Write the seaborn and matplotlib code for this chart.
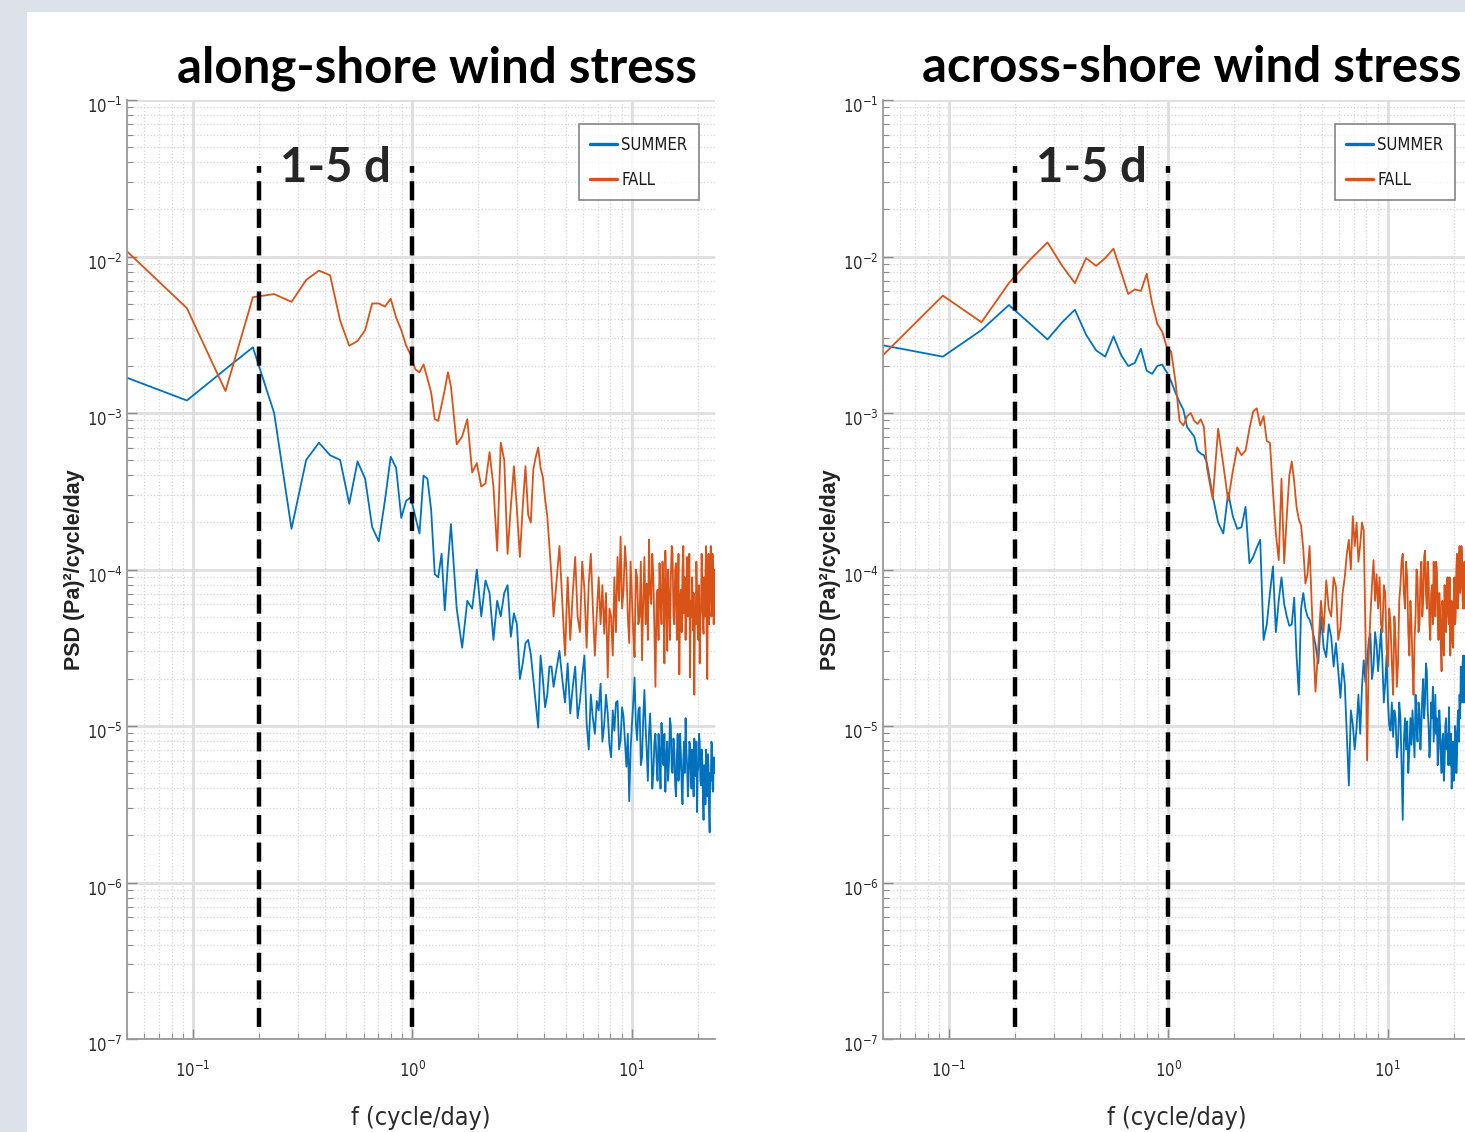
import matplotlib
matplotlib.use("Agg")
import matplotlib.pyplot as plt
import matplotlib.font_manager as fm
from matplotlib.patches import Rectangle
from matplotlib.lines import Line2D
from matplotlib.ticker import FixedLocator, LogLocator, NullFormatter, FuncFormatter
from matplotlib.transforms import ScaledTranslation
import numpy as np
import pandas as pd
import seaborn as sns

# ---------------- data ----------------
DF_CPD = 48.0 / 1024.0          # spectral resolution (cycle/day)
K_BINS = list(range(1, 33)) + list(range(34, 97, 2)) + list(range(100, 510, 3))

SEASONS = ["SUMMER", "FALL"]
SEASON_COLORS = {"SUMMER": "#0072BD", "FALL": "#D95319"}

# log10 of PSD (bins 1-32, 34-96 step 2, 100-508 step 3)
ALONG_SUMMER_LOG = [
    -2.76, -2.92, -2.72, -2.58, -3.00, -3.74, -3.30, -3.19, -3.27, -3.30,
    -3.58, -3.31, -3.42, -3.73, -3.82, -3.56, -3.28, -3.35, -3.67, -3.56,
    -3.54, -3.66, -3.77, -3.40, -3.42, -3.62, -4.03, -4.05, -3.90, -4.26,
    -3.96, -3.71,
    -4.25, -4.50, -4.20, -4.25, -4.00, -4.30, -4.07, -4.15,
    -4.45, -4.20, -4.30, -4.15, -4.10, -4.43, -4.28, -4.35,
    -4.70, -4.60, -4.47, -4.45, -4.54, -4.70, -4.85, -5.01,
    -4.55, -4.70, -4.88, -4.80, -4.62, -4.62, -4.75, -4.67,
    -4.52, -4.70, -4.85, -4.60, -4.92, -4.75, -4.62, -4.95, -4.84, -4.68,
    -4.55, -4.98, -5.15, -4.80, -4.95, -5.05, -4.84, -4.90, -4.73, -5.10,
    -4.99, -4.80, -4.92, -5.12, -5.20, -4.90, -5.03, -4.85, -4.84, -5.15,
    -5.09, -4.88, -4.94, -5.10, -5.26, -5.05, -5.48, -5.15, -4.99, -4.85,
    -4.69, -4.98, -5.09, -4.90, -4.88, -5.25, -5.20, -4.95, -4.77, -5.00,
    -5.16, -5.35, -5.05, -4.92, -5.12, -5.40, -5.30, -5.10, -5.05, -5.22,
    -5.35, -5.05, -5.18, -5.40, -4.98, -5.15, -5.25, -5.05, -5.42, -5.20,
    -5.10, -5.35, -5.22, -4.95, -5.00, -5.28, -5.30, -5.08, -5.15, -5.38,
    -5.45, -5.20, -5.05, -5.35, -5.28, -5.05, -5.18, -5.40, -5.50, -5.22,
    -5.10, -5.30, -4.95, -5.15, -5.25, -5.45, -5.35, -5.10, -5.12, -5.30,
    -5.40, -5.15, -5.20, -5.45, -5.08, -5.30, -5.32, -5.10, -5.55, -5.30,
    -5.25, -5.05, -5.10, -5.35, -5.38, -5.15, -5.22, -5.45, -5.60, -5.25,
    -5.30, -5.50, -5.15, -5.35, -5.45, -5.18, -5.25, -5.55, -5.68, -5.30,
    -5.35, -5.10, -5.12, -5.40, -5.42, -5.20, -5.30,
]
ALONG_FALL_LOG = [
    -1.93, -2.33, -2.86, -2.26, -2.24, -2.29, -2.15, -2.09, -2.12, -2.41,
    -2.57, -2.54, -2.47, -2.30, -2.30, -2.32, -2.27, -2.39, -2.47, -2.57,
    -2.63, -2.72, -2.74, -2.69, -2.78, -2.87, -3.04, -3.05, -2.95, -2.85,
    -2.74, -2.83,
    -3.20, -3.15, -3.04, -3.38, -3.32, -3.47, -3.45, -3.25,
    -3.47, -3.88, -3.19, -3.30, -3.90, -3.60, -3.34, -3.62,
    -3.92, -3.60, -3.34, -3.65, -3.70, -3.36, -3.28, -3.22,
    -3.35, -3.41, -3.55, -3.66, -3.85, -4.05, -4.30, -4.15,
    -3.85, -4.20, -4.55, -4.05, -4.45, -4.15, -3.92, -4.30, -4.40, -3.95,
    -4.13, -4.50, -4.09, -3.90, -4.24, -4.55, -4.28, -4.05, -4.35, -4.10,
    -4.41, -4.15, -4.69, -4.25, -4.30, -4.55, -4.05, -4.40, -3.92, -4.20,
    -3.79, -4.25, -4.13, -3.85, -4.00, -4.30, -4.47, -3.95, -4.17, -4.40,
    -4.56, -4.00, -4.05, -4.35, -4.30, -3.95, -4.58, -4.20, -3.92, -4.35,
    -4.09, -4.45, -3.81, -4.15, -4.22, -3.90, -4.05, -4.40, -4.75, -4.20,
    -4.13, -4.45, -3.96, -4.20, -4.35, -3.95, -4.09, -4.60, -3.88, -4.15,
    -4.52, -4.00, -4.20, -4.45, -4.05, -3.85, -3.90, -4.30, -4.35, -4.00,
    -3.96, -4.45, -4.26, -3.90, -4.67, -4.20, -4.13, -4.40, -4.00, -3.85,
    -4.28, -4.05, -4.45, -4.15, -3.92, -4.30, -4.17, -3.90, -4.69, -4.20,
    -4.30, -4.05, -4.39, -4.15, -4.80, -4.25, -4.35, -3.95, -4.13, -4.40,
    -4.45, -4.10, -4.60, -4.30, -4.26, -3.90, -4.09, -4.35, -4.41, -4.05,
    -4.30, -4.05, -3.85, -4.40, -4.70, -4.20, -3.90, -4.35, -4.10, -3.95,
    -3.85, -4.30, -4.25, -3.90, -4.05, -4.35, -4.00,
]
ACROSS_SUMMER_LOG = [
    -2.56, -2.64, -2.47, -2.31, -2.43, -2.53, -2.42, -2.34, -2.50, -2.60,
    -2.64, -2.51, -2.63, -2.70, -2.68, -2.59, -2.73, -2.75, -2.70, -2.69,
    -2.74, -2.80, -2.87, -2.93, -2.98, -3.09, -3.12, -3.15, -3.24, -3.26,
    -3.27, -3.32,
    -3.53, -3.70, -3.77, -3.51, -3.66, -3.74, -3.73, -3.60,
    -3.96, -3.92, -3.86, -3.81, -4.45, -4.35, -4.15, -3.98,
    -4.40, -4.20, -4.05, -4.22, -4.30, -4.36, -4.35, -4.18,
    -4.55, -4.80, -4.25, -4.15, -4.25, -4.30, -4.32, -4.36,
    -4.48, -4.60, -4.30, -4.50, -4.56, -4.35, -4.43, -4.62, -4.47, -4.65,
    -4.82, -4.60, -4.73, -5.05, -5.38, -4.90, -4.99, -5.15, -5.01, -4.80,
    -5.05, -4.75, -4.58, -4.72, -4.60, -4.45, -4.41, -4.70, -4.62, -4.40,
    -4.48, -4.65, -4.52, -4.38, -4.60, -4.85, -4.73, -4.55, -4.84, -5.00,
    -5.03, -4.85, -5.07, -4.90, -4.95, -5.20, -5.12, -4.85, -4.94, -5.25,
    -5.60, -5.10, -4.95, -5.15, -4.97, -5.30, -5.16, -4.95, -5.12, -4.90,
    -5.05, -5.20, -4.80, -5.00, -5.10, -4.85, -4.90, -5.15, -5.00, -4.80,
    -4.70, -4.95, -4.85, -4.60, -4.65, -4.90, -5.00, -5.20, -5.10, -4.85,
    -4.95, -4.75, -5.10, -4.95, -4.80, -5.05, -4.95, -5.25, -5.15, -4.90,
    -5.00, -5.20, -5.30, -5.10, -5.05, -5.35, -5.25, -5.00, -4.95, -5.15,
    -5.05, -5.25, -4.88, -5.10, -5.25, -5.05, -5.40, -5.20, -5.10, -5.35,
    -5.30, -5.00, -5.05, -5.30, -5.20, -4.95, -4.90, -5.10, -4.80, -4.95,
    -4.62, -4.80, -4.85, -4.60, -4.55, -4.85, -4.75, -4.55, -4.58, -4.80,
    -4.72, -4.50, -4.60, -4.85, -4.80, -4.62, -4.60,
]
ACROSS_FALL_LOG = [
    -2.67, -2.25, -2.42, -2.17, -2.02, -1.91, -2.06, -2.17, -2.01, -2.06,
    -2.01, -1.95, -2.10, -2.24, -2.21, -2.22, -2.11, -2.30, -2.43, -2.48,
    -2.58, -2.61, -2.80, -3.05, -3.08, -3.02, -3.00, -3.05, -3.07, -3.04,
    -3.09, -3.35,
    -3.55, -3.10, -3.33, -3.56, -3.37, -3.22, -3.27, -3.24,
    -3.10, -2.99, -2.97, -3.08, -3.02, -3.18, -3.19, -3.50,
    -3.77, -3.94, -3.42, -3.96, -3.66, -3.40, -3.31, -3.44,
    -3.60, -3.68, -3.72, -3.87, -4.09, -4.03, -3.85, -4.20,
    -4.78, -4.50, -4.20, -4.40, -4.07, -4.25, -4.30, -4.05, -4.11, -4.45,
    -4.37, -4.15, -4.05, -3.90, -3.81, -4.00, -3.66, -3.85, -3.70, -3.95,
    -3.84, -3.70, -3.75, -4.40, -5.22, -4.55, -4.30, -4.10, -3.94, -4.20,
    -4.03, -4.25, -4.05, -4.35, -4.40, -4.10, -4.15, -4.50, -4.62, -4.25,
    -4.35, -4.60, -4.80, -4.30, -4.45, -4.75, -4.60, -4.20, -4.10, -3.95,
    -3.90, -4.15, -4.25, -3.95, -4.05, -4.40, -4.55, -4.20, -4.35, -4.60,
    -4.80, -4.45, -4.30, -4.00, -4.05, -4.40, -4.35, -4.05, -3.95, -4.30,
    -4.20, -3.92, -3.88, -4.15, -4.25, -3.95, -4.05, -4.35, -4.45, -4.15,
    -4.10, -4.35, -3.95, -4.20, -4.30, -3.95, -4.00, -4.30, -4.45, -4.15,
    -4.25, -4.50, -4.65, -4.20, -4.30, -4.55, -4.10, -4.35, -4.40, -4.10,
    -4.05, -4.30, -4.35, -4.05, -4.55, -4.30, -4.20, -4.45, -4.50, -4.20,
    -4.05, -4.35, -4.30, -4.00, -3.90, -4.25, -4.20, -3.95, -3.85, -4.15,
    -4.10, -3.85, -3.90, -4.20, -4.25, -3.98, -3.95, -4.25, -4.15, -3.90,
    -3.90, -4.15, -4.20, -3.92, -3.95, -4.20, -4.10,
]

PANEL_TITLES = ["along-shore wind stress", "across-shore wind stress"]
BAND_EDGES = [0.2, 1.0]            # 1-5 day band (cycle/day)
BAND_LINE_SPAN = [1.2e-7, 3.8e-2]  # vertical extent of the dashed markers
BAND_LABEL = "1-5 d"
BAND_LABEL_Y = 3.7e-2
X_LIMITS = [0.05, 24.0]
Y_LIMITS = [1e-7, 1e-1]
X_MAJOR = [0.1, 1.0, 10.0]
Y_MAJOR = [1e-7, 1e-6, 1e-5, 1e-4, 1e-3, 1e-2, 1e-1]
X_LABEL = "f (cycle/day)"
Y_LABEL = "PSD (Pa)\u00b2/cycle/day"

# ---------------- style ----------------
sns.set_theme(style="white")

# look for a condensed sans face (MATLAB-like narrow tick text)
NARROW, NARROW_STRETCH = None, "normal"
_cands = []
for f in fm.fontManager.ttflist:
    st = str(f.stretch)
    if f.style != "normal" or str(f.weight) not in ("400", "normal", "regular", "book"):
        continue
    if "Narrow" in f.name or "Condensed" in f.name or st in ("condensed", "semi-condensed",
                                                              "extra-condensed", "ultra-condensed"):
        _cands.append(f)
_pref = ["Liberation Sans Narrow", "DejaVu Sans Condensed", "DejaVu Sans"]
for p in _pref:
    for f in _cands:
        if f.name == p and "Mono" not in f.name:
            NARROW, NARROW_STRETCH = f.name, str(f.stretch)
            break
    if NARROW:
        break
if NARROW is None:
    NARROW = "Liberation Sans"
    TICK_FS, LEG_FS, XLAB_FS = 11, 11.5, 17
else:
    TICK_FS, LEG_FS, XLAB_FS = 12, 12, 18

names = {f.name for f in fm.fontManager.ttflist}
BOLD_TITLE = "Lato" if "Lato" in names else "DejaVu Sans"
plt.rcParams["font.family"] = [NARROW, "DejaVu Sans"]
if NARROW_STRETCH != "normal":
    plt.rcParams["font.stretch"] = NARROW_STRETCH
plt.rcParams["mathtext.fontset"] = "custom"
plt.rcParams["mathtext.rm"] = NARROW
plt.rcParams["mathtext.it"] = NARROW
plt.rcParams["mathtext.bf"] = NARROW + ":bold"
plt.rcParams["mathtext.default"] = "regular"

W, H = 1465, 1132
fig = plt.figure(figsize=(W / 100, H / 100), dpi=100)
fig.patch.set_facecolor("#dde2ea")
fig.add_artist(Rectangle((27 / W, 0), 1 - 27 / W, (H - 12) / H, transform=fig.transFigure,
                         facecolor="white", edgecolor="none", zorder=0))

freq_all = np.array(K_BINS) * DF_CPD


def frame(summer_log, fall_log):
    n = min(len(freq_all), len(summer_log), len(fall_log))
    fq = freq_all[:n]
    return pd.DataFrame({
        "f": np.r_[fq, fq],
        "psd": 10.0 ** np.r_[np.array(summer_log[:n]), np.array(fall_log[:n])],
        "season": ["SUMMER"] * n + ["FALL"] * n,
    })


panels = [frame(ALONG_SUMMER_LOG, ALONG_FALL_LOG), frame(ACROSS_SUMMER_LOG, ACROSS_FALL_LOG)]
ax_lefts = [127 / W, 883 / W]
title_x = [437 / W, 1192 / W]

for i, data in enumerate(panels):
    ax = fig.add_axes([ax_lefts[i], 93 / H, 588 / W, 939 / H])
    ax.set_facecolor("white")
    ax.set_xscale("log")
    ax.set_yscale("log")
    sns.lineplot(data=data, x="f", y="psd", hue="season", hue_order=SEASONS,
                 palette=SEASON_COLORS, estimator=None, sort=True, legend=False,
                 linewidth=1.3, ax=ax)
    ax.set_xlim(*X_LIMITS)
    ax.set_ylim(*Y_LIMITS)

    # band markers
    for fb in BAND_EDGES:
        ax.plot([fb, fb], BAND_LINE_SPAN, color="black", lw=3.2,
                linestyle=(0, (4.3, 1.9)), zorder=5)
    ax.text(np.sqrt(BAND_EDGES[0] * BAND_EDGES[1]), BAND_LABEL_Y, BAND_LABEL,
            ha="center", va="center", fontsize=34, fontweight="bold",
            family=[BOLD_TITLE, "DejaVu Sans"], stretch="normal", zorder=6)

    # ticks
    ax.xaxis.set_major_locator(FixedLocator(X_MAJOR))
    ax.yaxis.set_major_locator(FixedLocator(Y_MAJOR))
    ax.xaxis.set_minor_locator(LogLocator(base=10, subs=np.arange(2, 10), numticks=30))
    ax.yaxis.set_minor_locator(LogLocator(base=10, subs=np.arange(2, 10), numticks=30))
    fmt = FuncFormatter(lambda v, p: r"$10^{%d}$" % int(round(np.log10(v))))
    ax.xaxis.set_major_formatter(fmt)
    ax.yaxis.set_major_formatter(fmt)
    ax.xaxis.set_minor_formatter(NullFormatter())
    ax.yaxis.set_minor_formatter(NullFormatter())
    ax.tick_params(which="both", direction="in", bottom=True, left=True, top=False, right=False,
                   color="#8c8c8c", labelcolor="#2b2b2b")
    ax.tick_params(which="major", length=7, width=1.0, labelsize=TICK_FS)
    ax.tick_params(which="minor", length=4, width=0.8)
    ax.tick_params(axis="x", which="major", pad=16)
    ax.tick_params(axis="y", which="major", pad=3)

    # grid
    ax.set_axisbelow(True)
    ax.grid(True, which="major", color="#dedede", lw=2.0, ls="-")
    ax.grid(True, which="minor", color="#d6d6d6", lw=0.9, ls=":")

    for side in ["top", "right"]:
        ax.spines[side].set_visible(False)
    for side in ["left", "bottom"]:
        ax.spines[side].set_color("#9a9a9a")
        ax.spines[side].set_linewidth(1.3)

    ax.set_xlabel(X_LABEL, fontsize=XLAB_FS, color="#2b2b2b")
    ax.xaxis.set_label_coords(0.5, -0.071)
    ax.set_ylabel(Y_LABEL, fontsize=15.5, fontweight="bold", color="#222222",
                  family=["Liberation Sans", "DejaVu Sans"], stretch="normal")
    ax.yaxis.set_label_coords(-0.071, 0.5)

    handles = [Line2D([0], [0], color=SEASON_COLORS[s], lw=2.4) for s in SEASONS]
    leg = ax.legend(handles, SEASONS, loc="upper right", bbox_to_anchor=(0.973, 0.974),
                    borderaxespad=0, frameon=True, fancybox=False, fontsize=LEG_FS,
                    handlelength=1.6, handletextpad=0.25, borderpad=0.7, labelspacing=1.0)
    leg.get_frame().set_edgecolor("#666666")
    leg.get_frame().set_linewidth(1.2)
    for t in leg.get_texts():
        t.set_color("#1a1a1a")

    off = ScaledTranslation(0, -5 / 100, fig.dpi_scale_trans)
    for tk in ax.yaxis.get_major_ticks():
        tk.label1.set_transform(tk.label1.get_transform() + off)

    fig.text(title_x[i], 0.940, PANEL_TITLES[i], ha="center", va="center",
             fontsize=35.5, fontweight="bold", family=[BOLD_TITLE, "DejaVu Sans"],
             stretch="normal", color="black")

fig.savefig("out.png", dpi=100)
